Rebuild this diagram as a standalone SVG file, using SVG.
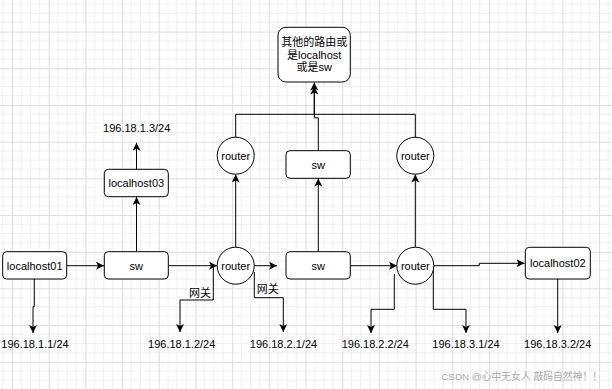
<svg xmlns="http://www.w3.org/2000/svg" width="612" height="389" viewBox="0 0 612 389">
<defs>
<pattern id="grid" x="12" y="31.6" width="36.69" height="36.69" patternUnits="userSpaceOnUse">
<path d="M9.17,0 V36.69 M18.35,0 V36.69 M27.52,0 V36.69 M0,9.17 H36.69 M0,18.35 H36.69 M0,27.52 H36.69" stroke="#f0f0f0" stroke-width="1" fill="none"/>
<path d="M0.5,0 V36.69 M0,0.5 H36.69" stroke="#dddddd" stroke-width="1" fill="none"/>
</pattern>
<marker id="arr" markerWidth="10" markerHeight="10" refX="8" refY="4" orient="auto" markerUnits="userSpaceOnUse">
<path d="M0,0 L8,4 L0,8 L2,4 Z" fill="#000"/>
</marker>
</defs>
<style>
.box{fill:#fff;stroke:#000;stroke-width:1}
.t{font-family:"Liberation Sans","Noto Sans CJK SC",sans-serif;font-size:11px;fill:#000;text-anchor:middle}
.e{fill:none;stroke:#000;stroke-width:1}
.wm{font-family:"Liberation Sans","Noto Sans CJK SC",sans-serif;font-size:9.8px;fill:#aaaaaa;text-anchor:end}
</style>
<rect width="612" height="389" fill="#fff"/>
<rect width="612" height="389" fill="url(#grid)"/>

<g id="edges">
<path class="e" d="M66.7,265.7 H104" marker-end="url(#arr)"/>
<path class="e" d="M168.3,265.7 H217" marker-end="url(#arr)"/>
<path class="e" d="M254,265.7 H277" marker-end="url(#arr)"/>
<path class="e" d="M350.3,265.7 H397" marker-end="url(#arr)"/>
<path class="e" d="M434,265.7 H479.3 V263.3 H524.5" marker-end="url(#arr)"/>
<path class="e" d="M34.3,279 V306.7 H33 V333" marker-end="url(#arr)"/>
<path class="e" d="M136.5,251.7 V197" marker-end="url(#arr)"/>
<path class="e" d="M136.5,169.3 V142.7" marker-end="url(#arr)"/>
<path class="e" d="M235.7,247.2 V174.5" marker-end="url(#arr)"/>
<path class="e" d="M318.3,251.7 V178.5" marker-end="url(#arr)"/>
<path class="e" d="M415.3,247.2 V174.5" marker-end="url(#arr)"/>
<path class="e" d="M235.7,137.2 V114.3 H415.3 V137.2"/>
<path class="e" d="M314.3,114.3 V86.5" marker-end="url(#arr)"/>
<path class="e" d="M318.3,150.7 V117.8 H314.3 V82.5" marker-end="url(#arr)"/>
<path class="e" d="M213.3,266.5 V300 H180 V332" marker-end="url(#arr)"/>
<path class="e" d="M254.3,272 V297.7 H283.3 V332" marker-end="url(#arr)"/>
<path class="e" d="M394.3,274 V309.3 H371 V333" marker-end="url(#arr)"/>
<path class="e" d="M433.3,266 V309.3 H466 V333" marker-end="url(#arr)"/>
<path class="e" d="M557.7,279 V333" marker-end="url(#arr)"/>
<rect x="188" y="286" width="24" height="13" fill="#fff"/>
<text class="t" x="200" y="297.3">网关</text>
<rect x="256" y="282" width="24" height="13" fill="#fff"/>
<text class="t" x="267.7" y="293.3">网关</text>
</g>

<g id="top">
<rect class="box" x="278" y="27.3" width="72.3" height="54.7" rx="8"/>
<text class="t" x="314.2" y="46">其他的路由或</text>
<text class="t" x="314.2" y="58.5">是localhost</text>
<text class="t" x="314.2" y="70.7">或是sw</text>
</g>
<g id="router-tl"><circle class="box" cx="235.7" cy="155.7" r="18.5"/><text class="t" x="235.7" y="159.7">router</text></g>
<g id="sw-top"><rect class="box" x="286" y="150.7" width="64.3" height="27.6" rx="4"/><text class="t" x="318.2" y="168.5">sw</text></g>
<g id="router-tr"><circle class="box" cx="415.3" cy="155.7" r="18.5"/><text class="t" x="415.3" y="159.7">router</text></g>
<g id="localhost03"><rect class="box" x="104.3" y="169.3" width="64" height="27.4" rx="4"/><text class="t" x="136.3" y="187">localhost03</text></g>
<g id="ip13"><text class="t" x="136.7" y="132">196.18.1.3/24</text></g>

<g id="localhost01"><rect class="box" x="2.7" y="251.7" width="64" height="27.3" rx="4"/><text class="t" x="34.7" y="269.7">localhost01</text></g>
<g id="sw-left"><rect class="box" x="104.3" y="251.7" width="64" height="27.3" rx="4"/><text class="t" x="136.3" y="269.7">sw</text></g>
<g id="router-bl"><circle class="box" cx="235.7" cy="265.7" r="18.5"/><text class="t" x="235.7" y="269.7">router</text></g>
<g id="sw-mid"><rect class="box" x="286" y="251.7" width="64.3" height="27.3" rx="4"/><text class="t" x="318.2" y="269.7">sw</text></g>
<g id="router-br"><circle class="box" cx="415.3" cy="265.7" r="18.5"/><text class="t" x="415.3" y="269.7">router</text></g>
<g id="localhost02"><rect class="box" x="525.3" y="247.3" width="65" height="31.7" rx="4"/><text class="t" x="557.8" y="267.2">localhost02</text></g>

<g id="ips">
<text class="t" x="35" y="348">196.18.1.1/24</text>
<text class="t" x="181.7" y="348">196.18.1.2/24</text>
<text class="t" x="283.5" y="348">196.18.2.1/24</text>
<text class="t" x="375.3" y="348">196.18.2.2/24</text>
<text class="t" x="466" y="348">196.18.3.1/24</text>
<text class="t" x="557.7" y="348">196.18.3.2/24</text>
</g>
<text class="wm" x="602" y="379.5">CSDN @心中无女人 敲码自然神！！</text>
</svg>
